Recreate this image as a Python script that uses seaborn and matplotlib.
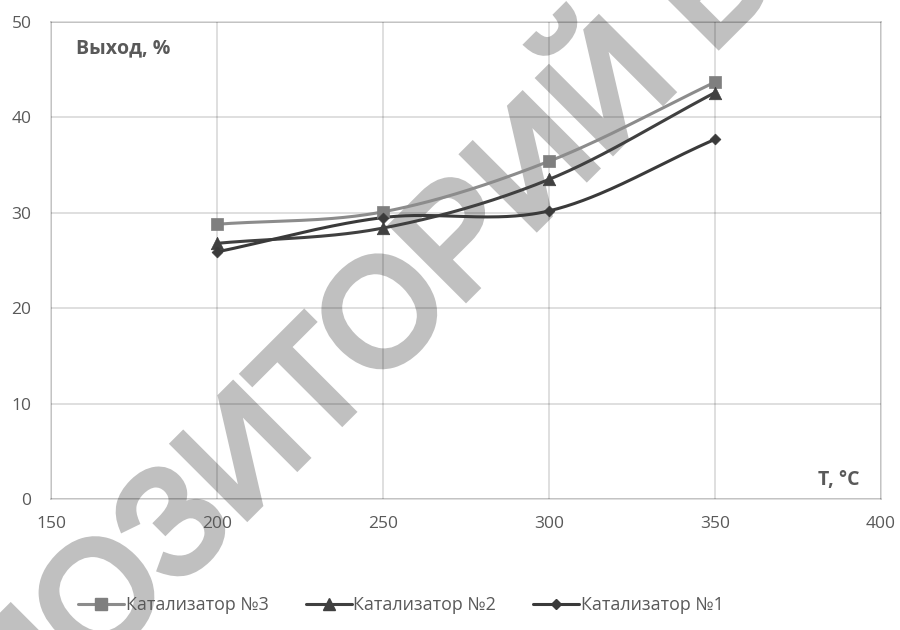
import numpy as np
import pandas as pd
import matplotlib
matplotlib.use("Agg")
import matplotlib.pyplot as plt
import matplotlib.patheffects as pe
from matplotlib.lines import Line2D
import seaborn as sns

# Temperature, °C
temperature = [200, 250, 300, 350]
# Yield, % for each catalyst
yield_cat3 = [28.8, 30.1, 35.4, 43.7]
yield_cat2 = [26.8, 28.4, 33.5, 42.6]
yield_cat1 = [25.9, 29.5, 30.2, 37.7]
series_names = ["Катализатор №3", "Катализатор №2", "Катализатор №1"]

x_ticks = [150, 200, 250, 300, 350, 400]
y_ticks = [0, 10, 20, 30, 40, 50]

sns.set_theme(style="white")
plt.rcParams["font.family"] = ["Open Sans", "DejaVu Sans"]

TEXT = "#595959"
WATERMARK = "#c0c0c0"


def smooth_curve(xs, ys, n=60):
    """Bezier smoothing through the points (Catmull-Rom style tangents)."""
    p = np.column_stack([xs, ys]).astype(float)
    m = len(p)
    tang = np.zeros_like(p)
    for i in range(m):
        a = p[max(i - 1, 0)]
        b = p[min(i + 1, m - 1)]
        tang[i] = (b - a) / (2 if 0 < i < m - 1 else 1)
    out = []
    t = np.linspace(0, 1, n)[:, None]
    for i in range(m - 1):
        p0, p3 = p[i], p[i + 1]
        p1 = p0 + tang[i] / 3
        p2 = p3 - tang[i + 1] / 3
        seg = ((1 - t) ** 3) * p0 + 3 * ((1 - t) ** 2) * t * p1 + 3 * (1 - t) * t ** 2 * p2 + t ** 3 * p3
        out.append(seg if i == 0 else seg[1:])
    out = np.vstack(out)
    return out[:, 0], out[:, 1]


fig = plt.figure(figsize=(9, 6.3), dpi=100, facecolor="white")
ax = fig.add_axes([51 / 900, 1 - 499 / 630, 830 / 900, 477 / 630])
ax.patch.set_visible(False)

styles = [
    dict(values=yield_cat3, line="#8c8c8c", mfc="#7f7f7f", marker="s", ms=9),
    dict(values=yield_cat2, line="#404040", mfc="#404040", marker="^", ms=9),
    dict(values=yield_cat1, line="#3a3a3a", mfc="#3a3a3a", marker="D", ms=5.5),
]

handles = []
for name, st in zip(series_names, styles):
    sx, sy = smooth_curve(temperature, st["values"])
    curve = pd.DataFrame({"T": sx, "Y": sy})
    sns.lineplot(data=curve, x="T", y="Y", ax=ax, color=st["line"], lw=2.2,
                 sort=False, estimator=None, zorder=3)
    pts = pd.DataFrame({"T": temperature, "Y": st["values"]})
    sns.scatterplot(data=pts, x="T", y="Y", ax=ax, marker=st["marker"],
                    s=st["ms"] ** 2, color=st["mfc"], edgecolor=st["mfc"],
                    linewidth=0.5, zorder=4)
    handles.append(Line2D([], [], color=st["line"], lw=2.2, marker=st["marker"],
                          markersize=st["ms"], markerfacecolor=st["mfc"],
                          markeredgecolor=st["mfc"], label=name))

ax.set_xlim(150, 400)
ax.set_ylim(0, 50)
ax.set_xticks(x_ticks)
ax.set_yticks(y_ticks)
ax.set_xlabel("")
ax.set_ylabel("")
# translucent grey grid so it stays visible over the watermark
ax.grid(True, color="black", alpha=0.15, lw=1.2)
ax.set_axisbelow(True)
for sp in ax.spines.values():
    sp.set_color("black")
    sp.set_alpha(0.15)
    sp.set_linewidth(1.2)
ax.tick_params(axis="both", length=0, colors=TEXT, labelsize=12.5)
ax.tick_params(axis="x", pad=12)
ax.tick_params(axis="y", pad=14)

ax.text(0.030, 0.945, "Выход, %", transform=ax.transAxes, ha="left", va="center",
        fontsize=14, fontweight="bold", color=TEXT)
ax.text(0.9735, 0.04, "T, °C", transform=ax.transAxes, ha="right", va="center",
        fontsize=14, fontweight="bold", color=TEXT)

fig.legend(handles=handles, loc="center", bbox_to_anchor=(401 / 900, 1 - 605 / 630),
           ncol=3, frameon=False, fontsize=12.9, handlelength=2.57,
           handletextpad=0.1, columnspacing=2.07, labelcolor=TEXT)

# repository watermark, running diagonally behind the plot
wm_kw = dict(rotation=45, rotation_mode="anchor", va="baseline", fontsize=108,
             family=["Liberation Sans", "DejaVu Sans"], color=WATERMARK, zorder=-1,
             path_effects=[pe.Stroke(linewidth=5.5, foreground=WATERMARK,
                                     joinstyle="miter"), pe.Normal()])
wm_x, wm_y = 92 / 900, 1 - 672 / 630
fig.text(wm_x, wm_y, "РЕП", ha="right", **wm_kw)
fig.text(wm_x, wm_y, "ОЗИТОРИЙ БГПУ", ha="left", **wm_kw)

fig.savefig("out.png", dpi=100, facecolor="white")
